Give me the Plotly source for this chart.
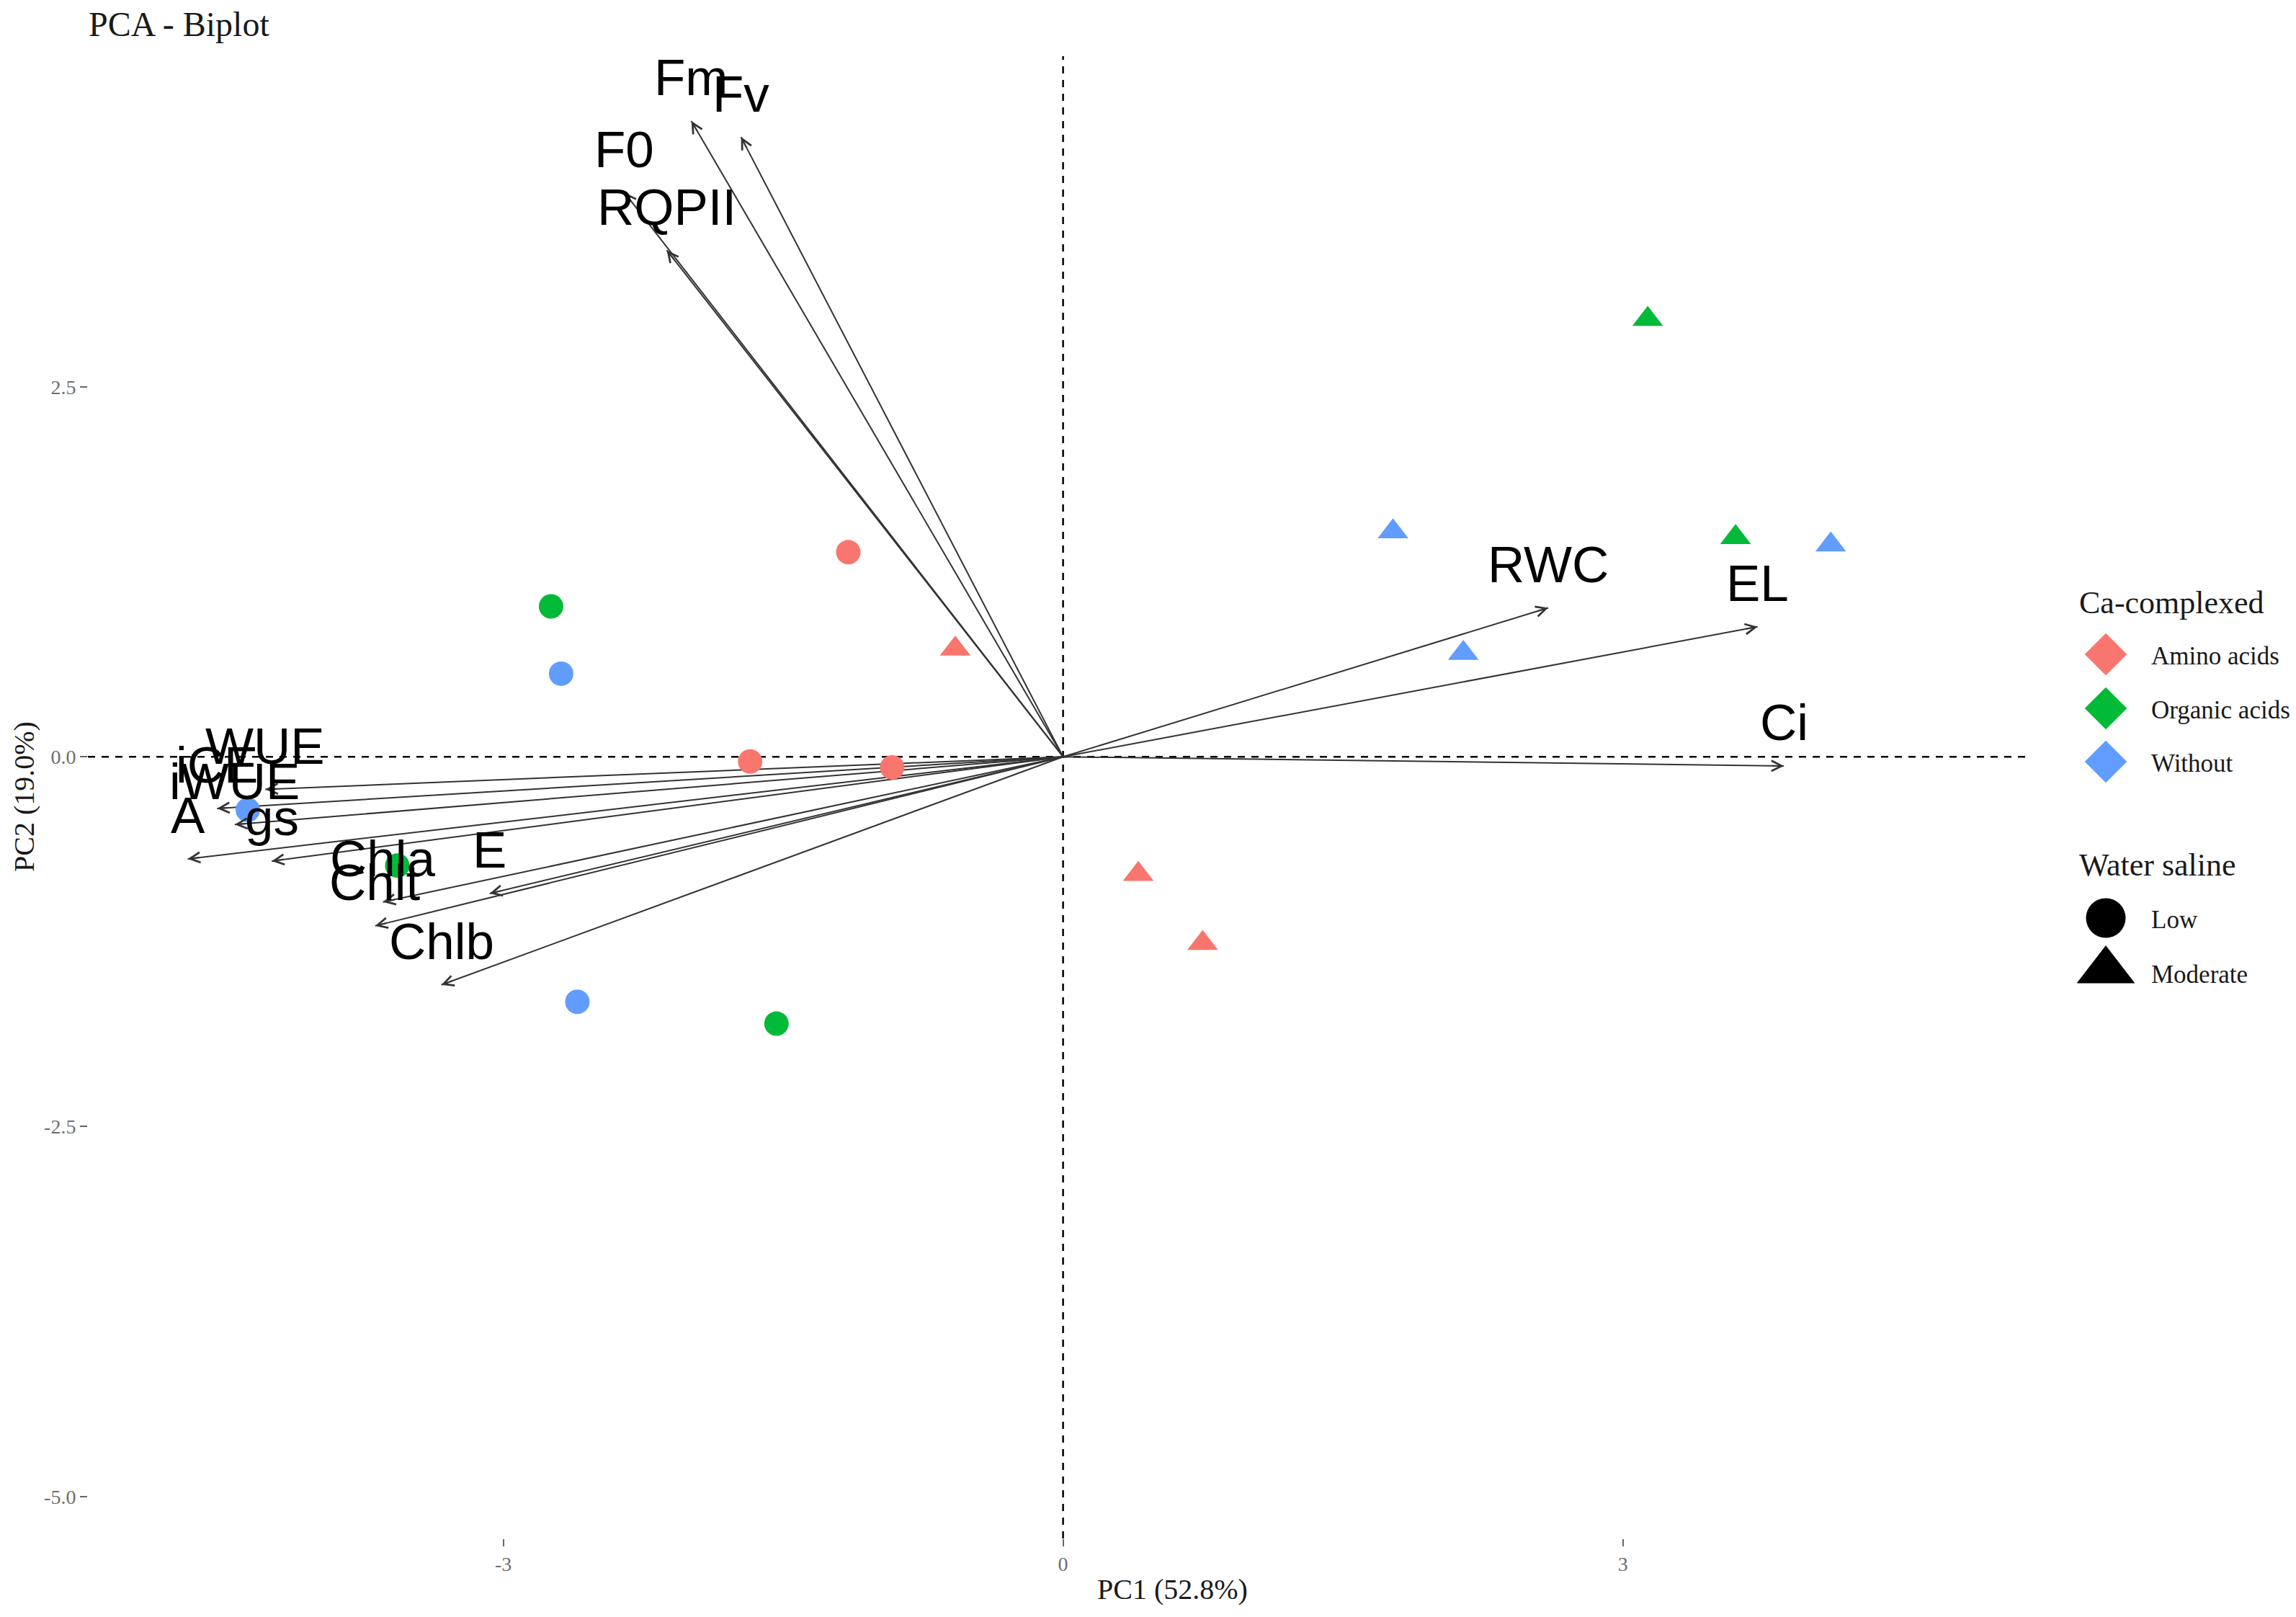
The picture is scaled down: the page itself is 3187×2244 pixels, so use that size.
import math
import plotly.graph_objects as go

# ---------------- data ----------------
treatments = ["Amino acids", "Organic acids", "Without"]
treat_colors = ["#F8766D", "#00BA38", "#619CFF"]
salinities = ["Low", "Moderate"]
sal_symbols = ["circle", "triangle-up"]

obs_treatment = ["Amino acids"] * 6 + ["Organic acids"] * 5 + ["Without"] * 6
obs_salinity = ["Low", "Moderate", "Low", "Low", "Moderate", "Moderate",
                "Moderate", "Moderate", "Low", "Low", "Low",
                "Moderate", "Moderate", "Moderate", "Low", "Low", "Low"]
obs_pc1 = [-1.151, -0.578, -1.677, -0.916, 0.403, 0.748,
           3.133, 3.604, -2.744, -3.568, -1.536,
           1.768, 4.114, 2.145, -2.690, -4.369, -2.603]
obs_pc2 = [1.383, 0.730, -0.032, -0.072, -0.794, -1.260,
           2.958, 1.483, 1.017, -0.735, -1.804,
           1.522, 1.433, 0.700, 0.562, -0.359, -1.656]

var_names = ["Fm", "Fv", "F0", "RQPII", "RWC", "EL", "Ci",
             "WUE", "iCE", "iWUE", "A", "gs", "Chla", "Chlt", "E", "Chlb"]
var_pc1 = [-1.992, -1.726, -2.351, -2.124, 2.600, 3.722, 3.863,
           -4.275, -4.534, -4.439, -4.691, -4.241, -3.645, -3.687, -3.073, -3.332]
var_pc2 = [4.298, 4.190, 3.815, 3.425, 1.007, 0.879, -0.062,
           -0.220, -0.349, -0.458, -0.690, -0.705, -0.982, -1.143, -0.924, -1.542]

x_ticks = [-3, 0, 3]
x_ticktext = ["-3", "0", "3"]
y_ticks = [-5.0, -2.5, 0.0, 2.5]
y_ticktext = ["-5.0", "-2.5", "0.0", "2.5"]

x_title = "PC1 (52.8%)"
y_title = "PC2 (19.0%)"
title = "PCA - Biplot"

# ---------------- layout geometry ----------------
# the page places the figure 8px in from the top-left corner (body margin)
OFF = 8
W, H = 3187 - OFF, 2244 - OFF
PANEL_LEFT, PANEL_TOP, PANEL_RIGHT, PANEL_BOTTOM = 122 - OFF, 78 - OFF, 2815 - OFF, 2135 - OFF
ML, MT, MR = PANEL_LEFT, PANEL_TOP, 20
MB = H - PANEL_BOTTOM
PW = W - ML - MR
PH = H - MT - MB
x_range = [-5.226, 5.171]
y_range = [-5.284, 4.736]
main_dom = [0, (PANEL_RIGHT - ML) / PW]

sx = (PANEL_RIGHT - ML) / (x_range[1] - x_range[0])
sy = PH / (y_range[1] - y_range[0])


def px_x(px):
    """screen x (screenshot px) -> paper fraction"""
    return (px - OFF - ML) / PW


def px_y(py):
    """screen y (screenshot px) -> paper fraction"""
    return (H - MB - (py - OFF)) / PH


SERIF = "Liberation Serif"
SANS = "Liberation Sans"
TXT = "#1a1a1a"

fig = go.Figure()

# arrow shafts (under the points)
sx_list, sy_list = [], []
for vx, vy in zip(var_pc1, var_pc2):
    sx_list += [0, vx, None]
    sy_list += [0, vy, None]
fig.add_trace(go.Scatter(x=sx_list, y=sy_list, mode="lines",
                         line=dict(color="#333333", width=2),
                         hoverinfo="skip", showlegend=False))

# observation points
for t, col in zip(treatments, treat_colors):
    for s, sym in zip(salinities, sal_symbols):
        xs = [x for x, tt, ss in zip(obs_pc1, obs_treatment, obs_salinity) if tt == t and ss == s]
        ys = [y for y, tt, ss in zip(obs_pc2, obs_treatment, obs_salinity) if tt == t and ss == s]
        if not xs:
            continue
        fig.add_trace(go.Scatter(
            x=xs, y=ys, mode="markers", showlegend=False,
            name=f"{t} / {s}",
            marker=dict(color=col, symbol=sym,
                        size=34 if sym == "circle" else 37,
                        line=dict(width=0))))

annotations = []
# arrow heads (short annotation arrows at each tip) + variable labels
HEAD_LEN = 18
for name, vx, vy in zip(var_names, var_pc1, var_pc2):
    dxp, dyp = vx * sx, vy * sy
    L = math.hypot(dxp, dyp)
    annotations.append(dict(
        x=vx, y=vy, xref="x", yref="y", text="", showarrow=True,
        ax=-dxp / L * HEAD_LEN, ay=dyp / L * HEAD_LEN,
        arrowhead=5, arrowsize=1.4, arrowwidth=2, arrowcolor="#333333",
        standoff=0))
    annotations.append(dict(
        x=vx, y=vy, xref="x", yref="y", text=name, showarrow=False,
        xanchor="center", yanchor="middle", yshift=60,
        font=dict(family=SANS, size=71, color="black")))

# title & axis titles
annotations.append(dict(x=px_x(121), y=px_y(34), xref="paper", yref="paper",
                        text=title, showarrow=False, xanchor="left", yanchor="middle",
                        font=dict(family=SERIF, size=48, color=TXT)))
annotations.append(dict(x=px_x(1627), y=px_y(2205), xref="paper", yref="paper",
                        text=x_title, showarrow=False, xanchor="center", yanchor="middle",
                        font=dict(family=SERIF, size=40, color=TXT)))
annotations.append(dict(x=px_x(33), y=px_y(1106), xref="paper", yref="paper",
                        text=y_title, showarrow=False, textangle=-90,
                        xanchor="center", yanchor="middle",
                        font=dict(family=SERIF, size=40, color=TXT)))

# ---------------- custom legend (overlay axes in screenshot-pixel units) ----------------
LEG_X0 = 2840
leg_key_x = 2923
leg_text_x = 2984
color_item_y = [908, 983, 1057]
shape_item_y = [1274, 1347]
shape_text_y = [1276, 1352]

for t, col, yy in zip(treatments, treat_colors, color_item_y):
    fig.add_trace(go.Scatter(x=[leg_key_x], y=[yy], xaxis="x2", yaxis="y2",
                             mode="markers", showlegend=False, hoverinfo="skip",
                             marker=dict(symbol="diamond", size=45, color=col, line=dict(width=0))))
    annotations.append(dict(x=leg_text_x, y=yy + 2, xref="x2", yref="y2", text=t,
                            showarrow=False, xanchor="left", yanchor="middle",
                            font=dict(family=SERIF, size=35, color=TXT)))
for s, sym, yy, ty in zip(salinities, sal_symbols, shape_item_y, shape_text_y):
    fig.add_trace(go.Scatter(x=[leg_key_x], y=[yy], xaxis="x2", yaxis="y2",
                             mode="markers", showlegend=False, hoverinfo="skip",
                             marker=dict(symbol=sym, size=55 if sym == "circle" else 70,
                                         color="black", line=dict(width=0))))
    annotations.append(dict(x=leg_text_x, y=ty, xref="x2", yref="y2", text=s,
                            showarrow=False, xanchor="left", yanchor="middle",
                            font=dict(family=SERIF, size=35, color=TXT)))
annotations.append(dict(x=2884, y=836, xref="x2", yref="y2", text="Ca-complexed",
                        showarrow=False, xanchor="left", yanchor="middle",
                        font=dict(family=SERIF, size=44, color=TXT)))
annotations.append(dict(x=2884, y=1200, xref="x2", yref="y2", text="Water saline",
                        showarrow=False, xanchor="left", yanchor="middle",
                        font=dict(family=SERIF, size=44, color=TXT)))

shapes = [
    dict(type="line", xref="x", yref="y domain", x0=0, x1=0, y0=0, y1=1,
         line=dict(color="black", width=2.5, dash="10px,9px"), layer="below"),
    dict(type="line", xref="x domain", yref="y", x0=0, x1=1, y0=0, y1=0,
         line=dict(color="black", width=2.5, dash="10px,9px"), layer="below"),
]

axis_common = dict(showgrid=False, zeroline=False, showline=False,
                   ticks="outside", ticklen=10, tickwidth=2, tickcolor="#666666",
                   tickfont=dict(family=SERIF, size=28, color="#6e6e6e"))

fig.update_layout(
    width=W, height=H,
    margin=dict(l=ML, r=MR, t=MT, b=MB, pad=0),
    paper_bgcolor="white", plot_bgcolor="white",
    showlegend=False,
    xaxis=dict(domain=main_dom, range=x_range, tickvals=x_ticks, ticktext=x_ticktext,
               anchor="y", **axis_common),
    yaxis=dict(domain=[0, 1], range=y_range, tickvals=y_ticks, ticktext=y_ticktext,
               anchor="x", **axis_common),
    xaxis2=dict(domain=[px_x(LEG_X0), 1], range=[LEG_X0, W - MR + OFF], visible=False,
                anchor="y2", fixedrange=True),
    yaxis2=dict(domain=[0, 1], range=[PANEL_BOTTOM + OFF, PANEL_TOP + OFF], visible=False,
                anchor="x2", fixedrange=True),
    annotations=annotations,
    shapes=shapes,
)

fig.write_html("out.html")
